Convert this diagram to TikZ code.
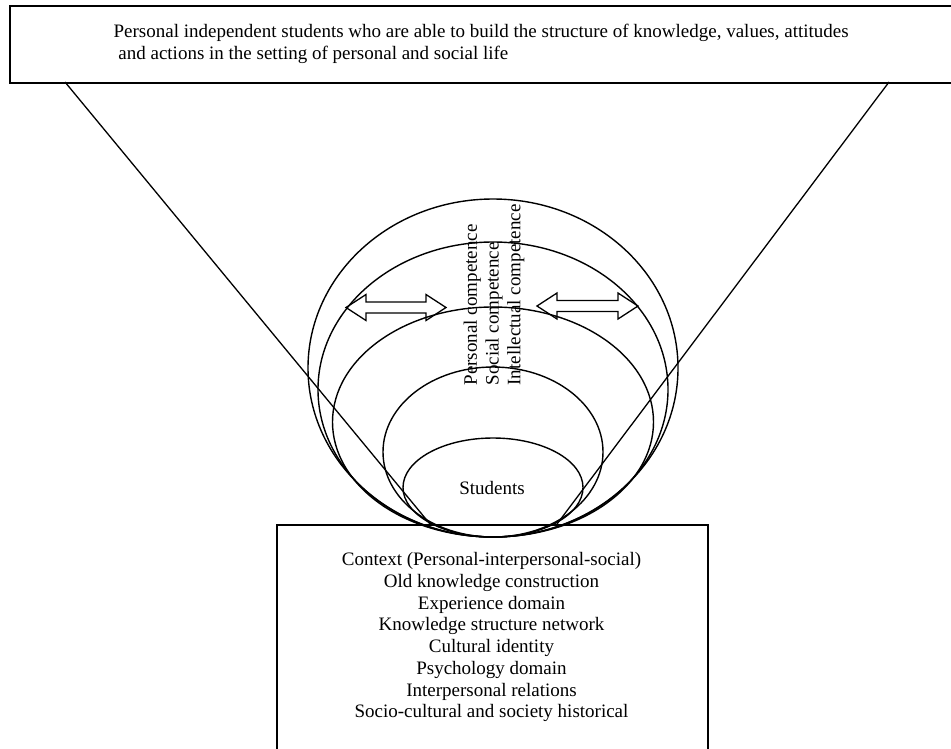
\documentclass[tikz,border=0pt]{standalone}
\usepackage{fontspec}
\setmainfont{Liberation Serif}

\tikzset{
  box/.style={draw, line width=1.8pt, inner sep=0pt},
  ring/.style={line width=1.4pt},
  txt/.style={inner sep=0pt, font=\fontsize{19}{21.7}\selectfont},
}

\begin{document}
\begin{tikzpicture}[x=1pt, y=-1pt, line width=1.3pt]
  \useasboundingbox (0,0) rectangle (951,748);

  % outcome box and context box
  \node[box, anchor=north west, minimum width=960pt, minimum height=77pt] (goal) at (9,5) {};
  \node[txt, anchor=base west] (goal1) at (113,37) {Personal independent students who are able to build the structure of knowledge, values, attitudes};
  \node[txt, anchor=base west] (goal2) at (113,59) {\ and actions in the setting of personal and social life};
  \node[box, anchor=north west, minimum width=431pt, minimum height=240pt] (context) at (276,524) {};
  \node[txt, anchor=north, align=center] (ctxtext) at (491.5,552) {Context (Personal-interpersonal-social)\\
    Old knowledge construction\\
    Experience domain\\
    Knowledge structure network\\
    Cultural identity\\
    Psychology domain\\
    Interpersonal relations\\
    Socio-cultural and society historical};

  % funnel lines
  \coordinate (gl) at (65,82);
  \coordinate (gr) at (889,82);
  \coordinate (cl) at (430,524);
  \coordinate (cr) at (557,524);
  \draw (gl) -- (cl);
  \draw (gr) -- (cr);

  % nested rings
  \foreach \rx/\ry in {185/169, 175/147.5, 160.5/115, 110/85, 90/49.5}
    \draw[ring] (493,537-\ry) ellipse [x radius=\rx, y radius=\ry];

  \node[txt, anchor=base] (students) at (492,494) {Students};
  \node[txt, rotate=90, anchor=west, align=left] (competence) at (494,386) {Personal competence\\
    Social competence\\
    Intellectual competence};

  % double arrows
  \foreach \xa/\xb/\ya in {346/446/307.5, 537/638/306}
    \draw (\xa,\ya) -- (\xa+20,\ya-13) -- (\xa+20,\ya-5.5) -- (\xb-20,\ya-5.5)
      -- (\xb-20,\ya-13) -- (\xb,\ya) -- (\xb-20,\ya+13) -- (\xb-20,\ya+5.5)
      -- (\xa+20,\ya+5.5) -- (\xa+20,\ya+13) -- cycle;
\end{tikzpicture}
\end{document}
